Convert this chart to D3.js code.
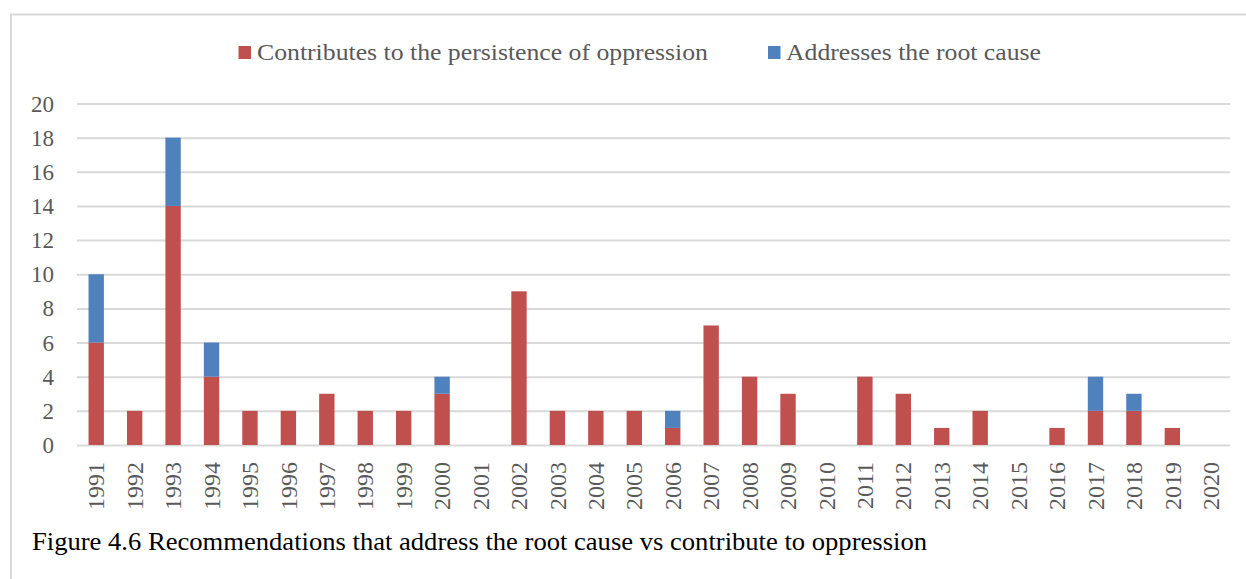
<!DOCTYPE html>
<html>
<head>
<meta charset="utf-8">
<script src="https://cdn.jsdelivr.net/npm/d3@7"></script>
<style>
html,body{margin:0;padding:0;background:#fff;}
svg{display:block;}
</style>
</head>
<body>
<svg id="chart" width="1246" height="579"></svg>
<script>
const years = ["1991","1992","1993","1994","1995","1996","1997","1998","1999","2000","2001","2002","2003","2004","2005","2006","2007","2008","2009","2010","2011","2012","2013","2014","2015","2016","2017","2018","2019","2020"];
const contributes = [6,2,14,4,2,2,3,2,2,3,0,9,2,2,2,1,7,4,3,0,4,3,1,2,0,1,2,2,1,0];
const addresses   = [4,0,4,2,0,0,0,0,0,1,0,0,0,0,0,1,0,0,0,0,0,0,0,0,0,0,2,1,0,0];
const seriesNames = ["Contributes to the persistence of oppression","Addresses the root cause"];
const seriesColors = ["#C0504D","#4F81BD"];
const yTicks = [0,2,4,6,8,10,12,14,16,18,20];
const caption = "Figure 4.6 Recommendations that address the root cause vs contribute to oppression";

const svg = d3.select("#chart");
const plotL = 77, plotR = 1230, plotT = 103.5, plotB = 445;

// outer border
svg.append("rect").attr("x",11).attr("y",14.5).attr("width",1400).attr("height",700)
  .attr("fill","none").attr("stroke","#d9d9d9").attr("stroke-width",2);

const x = d3.scaleBand().domain(years).range([plotL,plotR]).paddingInner(0.6).paddingOuter(0.3);
const y = d3.scaleLinear().domain([0,20]).range([plotB,plotT]);

// gridlines
const yAxis = d3.axisLeft(y).tickValues(yTicks).tickSize(-(plotR-plotL)).tickFormat(d3.format("d")).tickPadding(23);
const gy = svg.append("g").attr("transform",`translate(${plotL},0)`).call(yAxis);
gy.select(".domain").remove();
gy.selectAll(".tick line").attr("stroke","#d9d9d9").attr("stroke-width",2);
gy.selectAll(".tick text").attr("fill","#595959").attr("font-family","Liberation Serif, serif")
  .attr("font-size",23).attr("dy","0.33em");

// stacked bars
const data = years.map((yr,i)=>({year:yr, c:contributes[i], a:addresses[i]}));
const stack = d3.stack().keys(["c","a"])(data);
svg.append("g").selectAll("g").data(stack).join("g")
  .attr("fill",(d,i)=>seriesColors[i])
  .selectAll("rect").data(d=>d).join("rect")
  .attr("x",d=>x(d.data.year))
  .attr("width",x.bandwidth())
  .attr("y",d=>y(d[1]))
  .attr("height",d=>y(d[0])-y(d[1]));

// x axis labels
const xAxis = d3.axisBottom(x).tickSize(0).tickPadding(0);
const gx = svg.append("g").attr("transform",`translate(0,${plotB})`).call(xAxis);
gx.select(".domain").remove();
gx.selectAll(".tick text")
  .attr("font-family","Liberation Serif, serif").attr("font-size",24).attr("fill","#595959")
  .attr("text-anchor","end").attr("transform","rotate(-90)")
  .attr("x",-17).attr("y",0).attr("dy","0.34em");

// legend
const legendPos = [{sx:238.5, tx:257, w:451},{sx:768, tx:786, w:255}];
const lg = svg.append("g");
seriesNames.forEach((n,i)=>{
  lg.append("rect").attr("x",legendPos[i].sx).attr("y",46).attr("width",12.5).attr("height",13).attr("fill",seriesColors[i]);
  lg.append("text").attr("x",legendPos[i].tx).attr("y",59.5)
    .attr("font-family","Liberation Serif, serif").attr("font-size",24).attr("fill","#595959")
    .attr("textLength",legendPos[i].w).attr("lengthAdjust","spacingAndGlyphs")
    .text(n);
});

// caption
svg.append("text").attr("x",32).attr("y",549.5)
  .attr("font-family","Liberation Serif, serif").attr("font-size",25).attr("fill","#000")
  .attr("textLength",895).attr("lengthAdjust","spacingAndGlyphs")
  .text(caption);
</script>
</body>
</html>
